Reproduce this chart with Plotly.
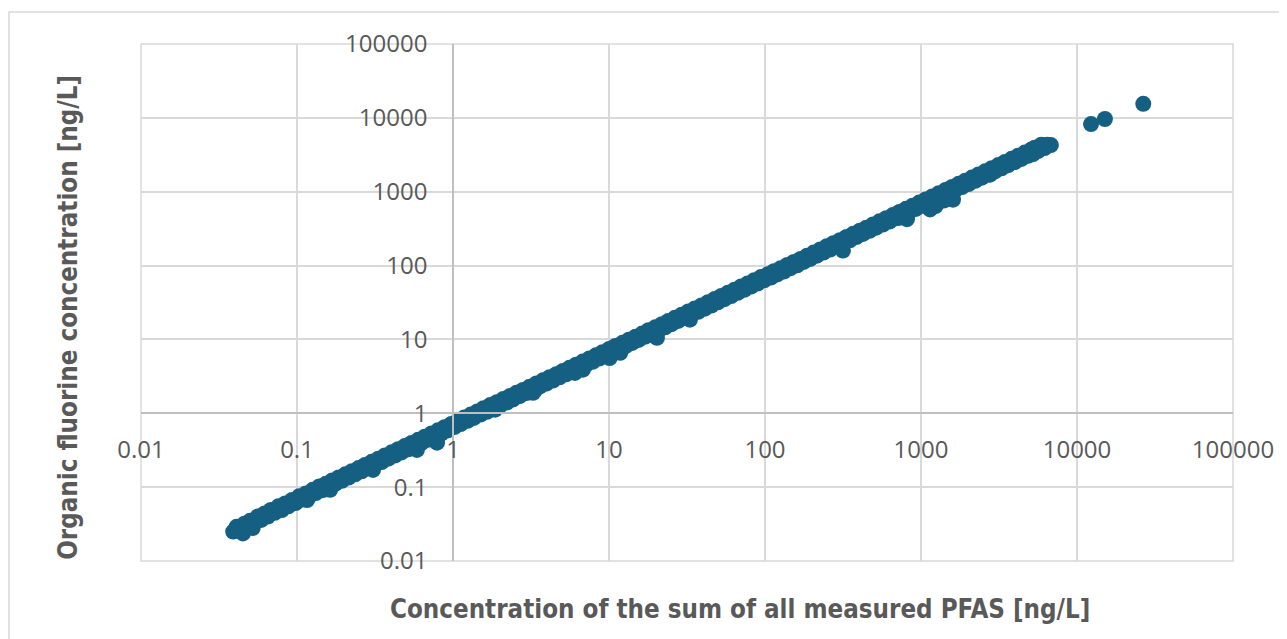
import plotly.graph_objects as go

# Sum of all measured PFAS [ng/L]
pfas_sum = [
    0.039, 0.041, 0.043, 0.045, 0.046, 0.048, 0.050, 0.052, 0.053, 0.056,
    0.059, 0.062, 0.065, 0.068, 0.072, 0.076, 0.080, 0.084, 0.088, 0.093,
    0.098,
    0.103, 0.108, 0.114, 0.116, 0.120, 0.126, 0.132, 0.139, 0.146, 0.153,
    0.160, 0.163, 0.168, 0.176, 0.185, 0.194, 0.204, 0.214, 0.225, 0.236,
    0.248, 0.260, 0.273, 0.287, 0.301, 0.307, 0.316, 0.332, 0.349, 0.366,
    0.385, 0.404, 0.424, 0.445, 0.468, 0.491, 0.516, 0.542, 0.569, 0.587,
    0.598, 0.628, 0.659, 0.692, 0.727, 0.763, 0.790, 0.801, 0.841, 0.883,
    0.927, 0.973,
    1.02, 1.07, 1.12, 1.18, 1.24, 1.30, 1.36, 1.43, 1.50, 1.57,
    1.65, 1.73, 1.82, 1.86, 1.91, 2.00, 2.10, 2.21, 2.32, 2.43,
    2.55, 2.68, 2.81, 2.95, 3.10, 3.26, 3.36, 3.42, 3.59, 3.77,
    3.96, 4.16, 4.37, 4.59, 4.82, 5.06, 5.31, 5.58, 5.86, 6.05,
    6.15, 6.46, 6.78, 6.80, 7.12, 7.48, 7.85, 8.24, 8.65, 9.08,
    9.53,
    10.0, 10.1, 10.5, 11.0, 11.6, 11.8, 12.2, 12.8, 13.4, 14.1,
    14.8, 15.5, 16.3, 17.1, 17.9, 18.8, 19.8, 20.3, 20.8, 21.8,
    22.2, 22.9, 24.0, 25.2, 26.5, 27.8, 29.2, 30.7, 32.2, 33.0,
    33.8, 35.5, 37.3, 39.1, 41.1, 43.1, 45.3, 47.5, 49.9, 52.4,
    55.0, 57.8, 60.7, 63.7, 66.9, 70.2, 73.7, 77.4, 81.3, 85.3,
    89.6, 94.1, 98.8,
    104, 109, 114, 120, 126, 132, 139, 146, 153, 161,
    169, 177, 186, 195, 205, 215, 226, 237, 249, 261,
    274, 288, 302, 316, 317, 333, 350, 367, 385, 405,
    425, 446, 468, 492, 516, 542, 569, 598, 628, 659,
    692, 727, 733, 763, 800, 813, 801, 841, 883, 927,
    973,
    1020, 1071, 1124, 1143, 1180, 1240, 1239, 1301, 1366, 1400,
    1434, 1506, 1581, 1604, 1660, 1743, 1830, 1922, 2018, 2119,
    2225, 2336, 2453, 2576, 2767, 2705, 2840, 2982, 3131, 3288,
    3452, 3625, 3806, 3996, 4196, 4313, 4406, 4626, 4857, 5100,
    5224, 5355, 5623, 5904, 6200, 6450, 6800,
    12300, 15100, 26600,
]

# Organic fluorine concentration [ng/L]
organic_fluorine = [
    0.025, 0.029, 0.026, 0.0236, 0.032, 0.030, 0.035, 0.028, 0.033, 0.040,
    0.036, 0.044, 0.040, 0.049, 0.045, 0.055, 0.049, 0.060, 0.055, 0.067,
    0.061,
    0.075, 0.068, 0.082, 0.067, 0.075, 0.092, 0.083, 0.102, 0.091, 0.111,
    0.100, 0.092, 0.123, 0.111, 0.135, 0.122, 0.149, 0.135, 0.164, 0.149,
    0.181, 0.164, 0.200, 0.180, 0.220, 0.171, 0.199, 0.243, 0.219, 0.268,
    0.243, 0.296, 0.268, 0.326, 0.295, 0.360, 0.326, 0.397, 0.359, 0.319,
    0.437, 0.396, 0.483, 0.437, 0.534, 0.482, 0.400, 0.588, 0.531, 0.648,
    0.586, 0.714,
    0.650, 0.795, 0.715, 0.875, 0.790, 0.960, 0.865, 1.06, 0.960, 1.17,
    1.05, 1.29, 1.16, 1.12, 1.41, 1.27, 1.56, 1.40, 1.72, 1.54,
    1.89, 1.71, 2.07, 1.88, 2.29, 1.89, 2.06, 2.53, 2.29, 2.79,
    2.52, 3.08, 2.78, 3.39, 3.07, 3.74, 3.38, 4.13, 3.73, 3.52,
    4.55, 4.11, 5.01, 3.90, 4.53, 5.53, 4.99, 6.09, 5.51, 6.71,
    6.06,
    7.40, 5.60, 6.69, 8.15, 7.37, 6.60, 8.99, 8.12, 9.90, 8.96,
    10.9, 9.86, 12.0, 10.9, 13.3, 12.0, 14.6, 10.5, 13.2, 16.1,
    15.8, 14.6, 17.8, 16.1, 19.7, 17.8, 21.6, 19.5, 23.9, 18.5,
    21.6, 26.2, 23.7, 28.9, 26.1, 31.9, 28.8, 35.2, 31.8, 38.8,
    35.1, 42.8, 38.7, 47.2, 42.7, 52.1, 47.1, 57.3, 51.9, 63.3,
    57.2, 69.8, 63.1,
    76.1, 68.8, 83.7, 75.8, 92.3, 83.2, 102, 92.1, 112, 101,
    123, 112, 136, 123, 150, 136, 165, 150, 183, 165,
    201, 181, 221, 160, 200, 244, 220, 269, 243, 296,
    268, 326, 295, 360, 326, 397, 359, 437, 395, 483,
    436, 532, 445, 481, 470, 425, 586, 530, 647, 585,
    713,
    644, 785, 710, 575, 864, 640, 781, 953, 861, 760,
    1051, 950, 1159, 780, 1048, 1278, 1155, 1408, 1273, 1553,
    1404, 1712, 1548, 1888, 1700, 1707, 2081, 1881, 2294, 2074,
    2529, 2287, 2789, 2521, 3075, 2884, 2780, 3389, 3064, 3737,
    3224, 3924, 3548, 4325, 3906, 4330, 4280,
    8240, 9640, 15500,
]

x_tick_values = [0.01, 0.1, 1, 10, 100, 1000, 10000, 100000]
x_tick_labels = ["0.01", "0.1", "1", "10", "100", "1000", "10000", "100000"]
y_tick_values = [0.01, 0.1, 1, 10, 100, 1000, 10000, 100000]
y_tick_labels = ["0.01", "0.1", "1", "10", "100", "1000", "10000", "100000"]

x_title = "Concentration of the sum of all measured PFAS [ng/L]"
y_title = "Organic fluorine concentration [ng/L]"

MARKER = "#156082"
GRID = "#d9d9d9"
AXLINE = "#bfbfbf"
TEXT = "#595959"
TICK_FONT = dict(family="Open Sans, Liberation Sans, sans-serif", size=24, color=TEXT)
TITLE_FONT = dict(family="DejaVu Sans Condensed, DejaVu Sans, sans-serif", size=25.7, color=TEXT)

fig = go.Figure(
    go.Scatter(
        x=pfas_sum,
        y=organic_fluorine,
        mode="markers",
        marker=dict(color=MARKER, size=16, line=dict(width=0)),
        hoverinfo="skip",
    )
)

cross = 2 / 7  # axes cross at value 1 (two decades into seven)

fig.update_layout(
    width=1279,
    height=631,
    margin=dict(l=133, r=54, t=36, b=78),
    paper_bgcolor="white",
    plot_bgcolor="white",
    showlegend=False,
    xaxis=dict(
        type="log",
        range=[-2, 5],
        tickmode="array",
        tickvals=x_tick_values,
        ticktext=x_tick_labels,
        showgrid=True,
        gridcolor=GRID,
        gridwidth=1.5,
        showline=True,
        linecolor=AXLINE,
        linewidth=1.5,
        anchor="free",
        position=cross,
        ticks="",
        ticklabelstandoff=15,
        tickfont=TICK_FONT,
        zeroline=False,
        automargin=False,
    ),
    yaxis=dict(
        type="log",
        range=[-2, 5],
        tickmode="array",
        tickvals=y_tick_values,
        ticktext=y_tick_labels,
        showgrid=True,
        gridcolor=GRID,
        gridwidth=1.5,
        showline=True,
        linecolor=AXLINE,
        linewidth=1.5,
        anchor="free",
        position=cross,
        ticks="",
        ticklabelstandoff=20,
        tickfont=TICK_FONT,
        zeroline=False,
        automargin=False,
    ),
    shapes=[
        dict(type="rect", xref="paper", yref="paper", x0=0, x1=1, y0=0, y1=1,
             line=dict(color=GRID, width=1.5), layer="below"),
        dict(type="rect", xref="paper", yref="paper", x0=-0.1209, x1=1.2, y0=-0.3, y1=1.0618,
             line=dict(color=GRID, width=1.5), layer="below"),
    ],
    annotations=[
        dict(text="<b>" + x_title + "</b>", xref="paper", yref="paper",
             x=0.5485, y=-0.0937, xanchor="center", yanchor="middle",
             showarrow=False, font=TITLE_FONT),
        dict(text="<b>" + y_title + "</b>", xref="paper", yref="paper",
             x=-0.0668, y=0.4705, xanchor="center", yanchor="middle",
             textangle=-90, showarrow=False, font=TITLE_FONT),
    ],
)

fig.write_html("out.html")
